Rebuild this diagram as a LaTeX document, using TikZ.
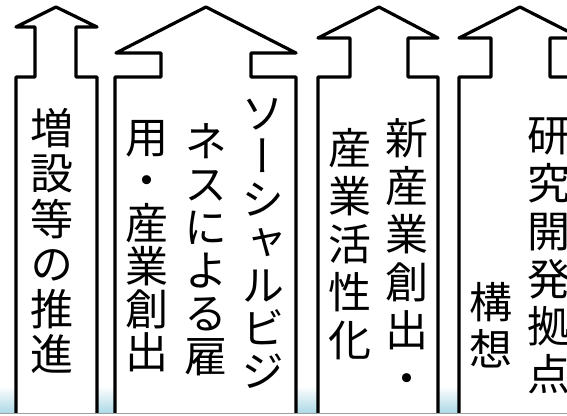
\documentclass[tikz,border=0pt]{standalone}
\usepackage{fontspec}
\newfontfamily\jpv[RawFeature={+vert}]{Noto Sans CJK JP}
\definecolor{paleblue}{RGB}{170,216,230}
\tikzset{
  arrowshape/.style={draw=black, line width=3.2pt, line join=round, fill=white},
  vcol/.style={anchor=north, inner sep=0pt, align=center, font={\jpv\fontsize{43pt}{#1}\selectfont}},
}
\begin{document}
\begin{tikzpicture}[x=1pt,y=-1pt]
\useasboundingbox (0,0) rectangle (567,415);
\clip (0,0) rectangle (567,415);
\shade[top color=white, bottom color=paleblue] (0,386) rectangle (567,413.5);
% arrows
\draw[arrowshape] (16,418) -- (16,77) -- (35,77) -- (35,27) -- (16,27) -- (56,7) -- (97,27) -- (76,27) -- (76,77) -- (97,77) -- (97,418);
\draw[arrowshape] (115,418) -- (115,77) -- (161,77) -- (161,53) -- (116,53) -- (206,7) -- (296,53) -- (251,53) -- (251,77) -- (296,77) -- (296,418);
\draw[arrowshape] (318,418) -- (318,77) -- (350,77) -- (350,38) -- (318,38) -- (379,7) -- (438,38) -- (408,38) -- (408,77) -- (438,77) -- (438,418);
\draw[arrowshape] (459,418) -- (459,77) -- (491,77) -- (491,38) -- (459,38) -- (520,7) -- (581,38) -- (550,38) -- (550,77) -- (581,77) -- (581,418);
\fill[white] (0,414.2) rectangle (567,416);
\draw[gray!75, line width=0.9pt] (0,413.6) -- (567,413.6);
% texts
\node[vcol=45.3pt] (t1) at (52,108) {増\\設\\等\\の\\推\\進};
\node[vcol=43pt] (t2r) at (263,98) {ソ\\ー\\シ\\ャ\\ル\\ビ\\ジ};
\node[vcol=43pt] (t2m) at (206,123) {ネ\\ス\\に\\よ\\る\\雇};
\node[vcol=43pt] (t2l) at (147,120) {用\\・\\産\\業\\創\\出};
\node[vcol=48pt] (t3r) at (407,118) {新\\産\\業\\創\\出\\・};
\node[vcol=48pt] (t3l) at (350,128) {産\\業\\活\\性\\化};
\node[vcol=47.7pt] (t4r) at (549,118) {研\\究\\開\\発\\拠\\点};
\node[vcol=47pt] (t4l) at (491,282) {構\\想};
\end{tikzpicture}
\end{document}
